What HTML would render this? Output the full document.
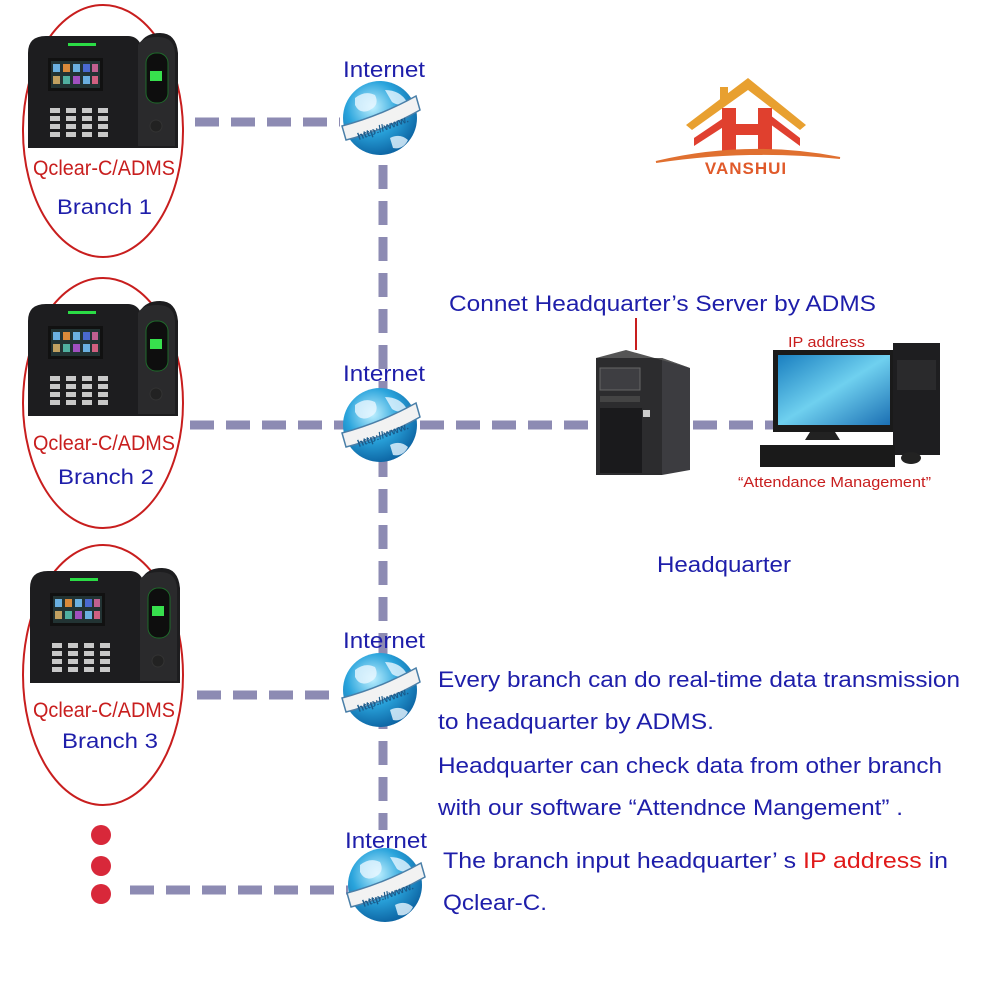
<!DOCTYPE html>
<html><head><meta charset="utf-8"><style>
html,body{margin:0;padding:0;background:#fff;}
svg{display:block;font-family:"Liberation Sans",Arial,sans-serif;}
</style></head><body>
<svg width="1000" height="1000" viewBox="0 0 1000 1000" xmlns="http://www.w3.org/2000/svg">
<defs>
<radialGradient id="gl" cx="0.4" cy="0.35" r="0.7">
<stop offset="0" stop-color="#bff0ff"/><stop offset="0.5" stop-color="#2aa4dc"/><stop offset="1" stop-color="#0a5f9e"/>
</radialGradient>
<linearGradient id="scr" x1="0" y1="0" x2="1" y2="1"><stop offset="0" stop-color="#1a7fc0"/><stop offset="0.5" stop-color="#6fd0ef"/><stop offset="1" stop-color="#1b6fb3"/></linearGradient>
<g id="dev">
<path d="M0,20 Q0,3 18,3 L100,3 Q108,3 112,10 Q118,0 132,0 Q148,0 150,20 L150,115 L0,115 Z" fill="#1d1d1f"/>
<path d="M110,12 Q114,4 130,4 Q146,4 147,20 L147,113 L110,113 Z" fill="#2a2a2c"/>
<rect x="40" y="10" width="28" height="3" fill="#2bdc45"/>
<rect x="118" y="20" width="22" height="50" rx="10" fill="#0e0e0e" stroke="#1e6a2a"/>
<rect x="122" y="38" width="12" height="10" fill="#37e04d"/>
<rect x="20" y="25" width="55" height="33" fill="#111"/>
<rect x="23" y="28" width="49" height="27" fill="#233"/>
<g fill="#6ab0e0"><rect x="25" y="31" width="7" height="8"/><rect x="35" y="31" width="7" height="8" fill="#d98a3a"/><rect x="45" y="31" width="7" height="8"/><rect x="55" y="31" width="7" height="8" fill="#4a6ad0"/><rect x="64" y="31" width="6" height="8" fill="#c06090"/>
<rect x="25" y="43" width="7" height="8" fill="#c0a060"/><rect x="35" y="43" width="7" height="8" fill="#50b0a0"/><rect x="45" y="43" width="7" height="8" fill="#a050c0"/><rect x="55" y="43" width="7" height="8"/><rect x="64" y="43" width="6" height="8" fill="#d06080"/></g>
<g fill="#c8c8c8">
<rect x="22" y="75" width="10" height="5"/><rect x="38" y="75" width="10" height="5"/><rect x="54" y="75" width="10" height="5"/><rect x="70" y="75" width="10" height="5"/>
<rect x="22" y="83" width="10" height="5"/><rect x="38" y="83" width="10" height="5"/><rect x="54" y="83" width="10" height="5"/><rect x="70" y="83" width="10" height="5"/>
<rect x="22" y="91" width="10" height="5"/><rect x="38" y="91" width="10" height="5"/><rect x="54" y="91" width="10" height="5"/><rect x="70" y="91" width="10" height="5"/>
<rect x="22" y="99" width="10" height="5"/><rect x="38" y="99" width="10" height="5"/><rect x="54" y="99" width="10" height="5"/><rect x="70" y="99" width="10" height="5"/></g>
<circle cx="128" cy="93" r="6" fill="#222" stroke="#333"/>
</g>
<g id="globe">
<circle cx="0" cy="0" r="37" fill="url(#gl)"/>
<path d="M-25,-20 q10,-8 20,-3 q5,10 -5,15 q-10,5 -15,-5z M5,-28 q15,0 22,12 q-8,5 -15,0z M10,20 q10,-5 18,2 q-5,10 -15,8z" fill="#e8f6ff" opacity="0.8"/>
<path d="M-38,8 Q0,-2 36,-22 L40,-8 Q5,12 -34,22 Z" fill="#f2f2f2" stroke="#4a7fa8" stroke-width="1.5"/>
</g>
</defs>
<g fill="none" stroke="#c81e1e" stroke-width="2">
<ellipse cx="103" cy="131" rx="80" ry="126"/>
<ellipse cx="103" cy="403" rx="80" ry="125"/>
<ellipse cx="103" cy="675" rx="80" ry="130"/>
</g>
<g stroke="#8d8bb3" stroke-width="9" stroke-dasharray="24 12" fill="none">
<line x1="195" y1="122" x2="340" y2="122"/>
<line x1="190" y1="425" x2="345" y2="425"/>
<line x1="420" y1="425" x2="600" y2="425"/>
<line x1="693" y1="425" x2="778" y2="425"/>
<line x1="197" y1="695" x2="340" y2="695"/>
<line x1="130" y1="890" x2="348" y2="890"/>
<line x1="383" y1="165" x2="383" y2="830"/>
</g>
<use href="#dev" x="28" y="33"/>
<use href="#dev" x="28" y="301"/>
<use href="#dev" x="30" y="568"/>
<g font-size="21">
<text x="33" y="175" fill="#c81e1e" textLength="142" lengthAdjust="spacingAndGlyphs">Qclear-C/ADMS</text>
<text x="57" y="214" fill="#1e1eaa" textLength="95" lengthAdjust="spacingAndGlyphs">Branch 1</text>
<text x="33" y="450" fill="#c81e1e" textLength="142" lengthAdjust="spacingAndGlyphs">Qclear-C/ADMS</text>
<text x="58" y="484" fill="#1e1eaa" textLength="96" lengthAdjust="spacingAndGlyphs">Branch 2</text>
<text x="33" y="717" fill="#c81e1e" textLength="142" lengthAdjust="spacingAndGlyphs">Qclear-C/ADMS</text>
<text x="62" y="748" fill="#1e1eaa" textLength="96" lengthAdjust="spacingAndGlyphs">Branch 3</text>
<g fill="#1e1eaa" font-size="22">
<text x="343" y="77" textLength="82" lengthAdjust="spacingAndGlyphs">Internet</text>
<text x="343" y="381" textLength="82" lengthAdjust="spacingAndGlyphs">Internet</text>
<text x="343" y="648" textLength="82" lengthAdjust="spacingAndGlyphs">Internet</text>
<text x="345" y="848" textLength="82" lengthAdjust="spacingAndGlyphs">Internet</text>
</g></g>
<use href="#globe" x="380" y="118"/>
<use href="#globe" x="380" y="425"/>
<use href="#globe" x="380" y="690"/>
<use href="#globe" x="385" y="885"/>
<g font-size="10" font-weight="bold" fill="#1a5a8a">
<text x="355" y="132" transform="rotate(-20 380 125)">http://www.</text>
<text x="355" y="439" transform="rotate(-20 380 432)">http://www.</text>
<text x="355" y="704" transform="rotate(-20 380 697)">http://www.</text>
<text x="360" y="899" transform="rotate(-20 385 892)">http://www.</text>
</g>
<g fill="#d8283a"><circle cx="101" cy="835" r="10"/><circle cx="101" cy="866" r="10"/><circle cx="101" cy="894" r="10"/></g>
<!-- logo -->
<path d="M686,125 L748,78 L806,125 L800,130 L748,90 L692,130 Z" fill="#e8a030"/>
<rect x="720" y="87" width="8" height="14" fill="#e8a030"/>
<path d="M694,138 L728,115 L728,124 L694,146 Z M770,115 L800,138 L800,146 L770,124 Z" fill="#e04030"/>
<path d="M722,108 h14 v16 h22 v-16 h14 v45 h-14 v-18 h-22 v18 h-14 z" fill="#e0402e"/>
<path d="M656,162 Q748,140 840,158 Q748,148 656,162 Z" fill="#e07030" stroke="#e07030" stroke-width="2"/>
<text x="746" y="174" font-size="17" font-weight="bold" fill="#e05a2a" text-anchor="middle" letter-spacing="1">VANSHUI</text>
<!-- server -->
<rect x="596" y="358" width="66" height="117" fill="#2c2c2e"/>
<path d="M662,358 L690,368 L690,470 L662,475 Z" fill="#3c3c40"/>
<path d="M596,358 L626,350 L690,368 L662,358 Z" fill="#555"/>
<rect x="600" y="368" width="40" height="22" fill="#3e3e42" stroke="#666"/>
<rect x="600" y="396" width="40" height="6" fill="#444"/>
<rect x="600" y="408" width="42" height="65" fill="#1a1a1c"/>
<rect x="643" y="410" width="7" height="7" fill="#ccc"/>
<line x1="636" y1="318" x2="636" y2="350" stroke="#c81e1e" stroke-width="2"/>
<!-- PC -->
<rect x="773" y="350" width="122" height="82" fill="#1a1a1a"/>
<rect x="778" y="355" width="112" height="70" fill="url(#scr)"/>
<path d="M810,432 h25 l5,8 h-35 z" fill="#222"/>
<rect x="893" y="343" width="47" height="112" fill="#1e1e20"/>
<rect x="897" y="360" width="39" height="30" fill="#2a2a2c"/>
<rect x="760" y="445" width="135" height="22" fill="#1a1a1a"/>
<ellipse cx="911" cy="458" rx="10" ry="6" fill="#222"/>
<g fill="#1e1eaa" font-size="22">
<text x="449" y="311" textLength="427" lengthAdjust="spacingAndGlyphs">Connet Headquarter’s Server by ADMS</text>
<text x="657" y="572" textLength="134" lengthAdjust="spacingAndGlyphs">Headquarter</text>
<text x="438" y="687" textLength="522" lengthAdjust="spacingAndGlyphs">Every branch can do real-time data transmission</text>
<text x="438" y="729" textLength="276" lengthAdjust="spacingAndGlyphs">to headquarter by ADMS.</text>
<text x="438" y="773" textLength="504" lengthAdjust="spacingAndGlyphs">Headquarter can check data from other branch</text>
<text x="438" y="815" textLength="465" lengthAdjust="spacingAndGlyphs">with our software “Attendnce Mangement” .</text>
<text x="443" y="868" textLength="505" lengthAdjust="spacingAndGlyphs">The branch input  headquarter’ s <tspan fill="#e01a1a">IP address</tspan> in</text>
<text x="443" y="910" textLength="104" lengthAdjust="spacingAndGlyphs">Qclear-C.</text>
</g>
<g fill="#c81e1e" font-size="15">
<text x="788" y="347" textLength="77" lengthAdjust="spacingAndGlyphs">IP address</text>
<text x="738" y="487" textLength="193" lengthAdjust="spacingAndGlyphs">“Attendance Management”</text>
</g>
</svg>
</body></html>
